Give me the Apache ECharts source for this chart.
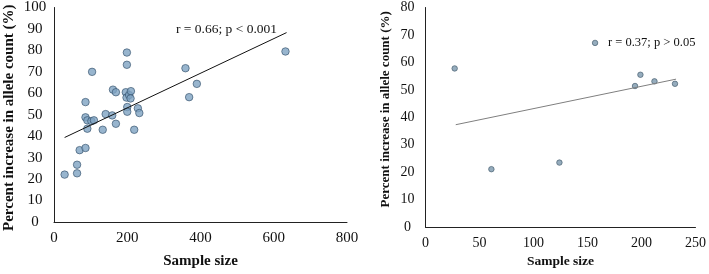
<!DOCTYPE html>
<html>
<head>
<meta charset="utf-8">
<script src="https://cdn.jsdelivr.net/npm/echarts@6/dist/echarts.min.js"></script>
<style>
  html, body { margin: 0; padding: 0; background: #fff; }
  #chart { width: 709px; height: 274px; }
</style>
</head>
<body>
<div id="chart"></div>
<script>
// 左图：全部样本
const leftX = [29, 63, 63, 70, 86, 86, 86, 91, 91, 104, 102, 109, 133, 141, 159, 161, 169, 169, 199, 199, 196, 198, 200, 200, 205, 210, 209, 219, 229, 233, 359, 369, 390, 632];
const leftY = [22.1, 22.7, 26.7, 33.5, 34.5, 55.9, 48.8, 47.4, 43.5, 70, 47, 47.4, 43, 50.3, 49.7, 61.7, 60.5, 45.8, 79, 73.3, 60.5, 58, 53.6, 51.4, 59.2, 61, 57.6, 43, 53, 50.8, 71.7, 58.2, 64.4, 79.5];
const leftTrendX = [29, 635];
const leftTrendY = [39.4, 88.3];
const leftNote = 'r = 0.66; p < 0.001';

// 右图
const rightX = [27, 61, 124, 157, 194, 199, 212, 231];
const rightY = [57.8, 21.1, 23.5, 67.1, 51.4, 55.5, 53.1, 52.2];
const rightTrendX = [28, 232];
const rightTrendY = [37.3, 53.9];
const rightNote = 'r = 0.37; p > 0.05';

const xName = 'Sample size';
const yName = 'Percent increase in allele count (%)';

const serif = '"Liberation Serif", "DejaVu Serif", serif';
const zip = (xs, ys) => xs.map((x, i) => [x, ys[i]]);

function xAxisOf(gridIndex, max, interval, fontSize, nameSize, nameGap) {
    return {
        gridIndex, type: 'value', min: 0, max, interval,
        name: xName, nameLocation: 'middle', nameGap,
        nameTextStyle: { fontFamily: serif, fontWeight: 'bold', fontSize: nameSize, color: '#111' },
        axisLine: { lineStyle: { color: '#222', width: 1 } },
        axisTick: { show: false },
        splitLine: { show: false },
        axisLabel: { fontFamily: serif, fontSize, color: '#111', margin: 9 }
    };
}

function yAxisOf(gridIndex, max, fontSize, nameSize, nameGap, margin, namePad) {
    return {
        gridIndex, type: 'value', min: 0, max, interval: 10,
        name: yName, nameLocation: 'middle', nameGap,
        nameTextStyle: { fontFamily: serif, fontWeight: 'bold', fontSize: nameSize, color: '#111', padding: namePad },
        axisLine: { show: true, lineStyle: { color: '#222', width: 1 } },
        axisTick: { show: false },
        splitLine: { show: false },
        axisLabel: { fontFamily: serif, fontSize, color: '#111', margin, align: 'center' }
    };
}

const chart = echarts.init(document.getElementById('chart'), null, { renderer: 'canvas' });

chart.setOption({
    animation: false,
    grid: [
        { left: 54, right: 362, top: 7, bottom: 47.5 },
        { left: 425.5, right: 12, top: 7.5, bottom: 46.5 }
    ],
    xAxis: [
        xAxisOf(0, 800, 200, 15, 15, 32),
        xAxisOf(1, 250, 50, 14, 13.5, 20)
    ],
    yAxis: [
        yAxisOf(0, 100, 15, 15, 37, 19, [0, 6, 0, 0]),
        yAxisOf(1, 80, 14, 13, 33, 18, [0, 0, 0, 16])
    ],
    series: [
        {
            type: 'line', xAxisIndex: 0, yAxisIndex: 0,
            data: zip(leftTrendX, leftTrendY),
            symbol: 'none', lineStyle: { color: '#111', width: 1 }, silent: true
        },
        {
            type: 'scatter', xAxisIndex: 0, yAxisIndex: 0,
            data: zip(leftX, leftY),
            symbolSize: 7.5,
            itemStyle: { color: '#7ea2c2', borderColor: '#2f4b66', borderWidth: 0.8 },
            markPoint: {
                symbol: 'circle', symbolSize: 0,
                data: [{ coord: [333, 89.8] }],
                label: {
                    show: true, formatter: leftNote, position: 'right', distance: 0,
                    fontFamily: serif, fontSize: 13.5, color: '#111'
                }
            }
        },
        {
            type: 'line', xAxisIndex: 1, yAxisIndex: 1,
            data: zip(rightTrendX, rightTrendY),
            symbol: 'none', lineStyle: { color: '#7f7f7f', width: 1 }, silent: true
        },
        {
            type: 'scatter', xAxisIndex: 1, yAxisIndex: 1,
            data: zip(rightX, rightY),
            symbolSize: 5.5,
            itemStyle: { color: '#7a97ad', borderColor: '#3e5566', borderWidth: 0.8 },
            markPoint: {
                symbol: 'circle', symbolSize: 0,
                data: [{ coord: [169, 67.1] }],
                label: {
                    show: true, formatter: rightNote, position: 'right', distance: 0,
                    fontFamily: serif, fontSize: 12.5, color: '#111'
                }
            }
        }
    ]
});

window.addEventListener('resize', () => chart.resize());
</script>
</body>
</html>
